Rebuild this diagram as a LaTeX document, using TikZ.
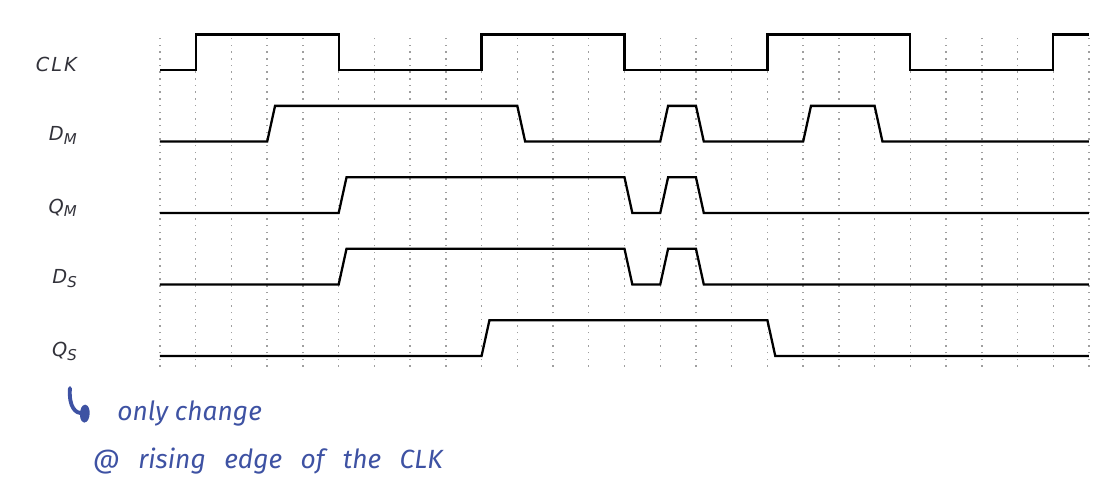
\documentclass[tikz,border=0pt]{standalone}
\usepackage{fontspec}
\usepackage{tikz}
\usetikzlibrary{
    arrows.meta,
    positioning,
    calc,
}
\newfontfamily\labelfont[LetterSpace=10]{DejaVu Sans}
\newfontfamily\handfont{Fira Sans}
\definecolor{inkblue}{RGB}{62,82,163}
\definecolor{labelgray}{RGB}{50,50,58}
\newcommand{\sig}[2]{#1\raisebox{-0.35ex}{\fontsize{8.5}{8.5}\selectfont #2}}

\begin{document}
\begin{tikzpicture}[
    x=0.7146cm, y=0.7146cm,
    gridline/.style={gray!75, line width=0.8pt, dash pattern=on 0.8pt off 3pt},
    wave/.style={black, line width=1.3pt, line join=miter},
    siglabel/.style={anchor=east, inner sep=0pt, text=labelgray, font=\labelfont\itshape\fontsize{11}{13}\selectfont},
    hand/.style={inkblue, line width=2.2pt, line cap=round},
    note/.style={anchor=west, inner sep=0pt, text=inkblue, font=\handfont\itshape\fontsize{15}{18}\selectfont},
]
\useasboundingbox (-4.478,-3.890) rectangle (26.476,9.963);

% dotted time grid
\foreach \i in {0,...,26}
    \draw[gridline] (\i,-0.3) -- (\i,9);

% signal names
\node[siglabel] (clk) at (-2.32,8.17) {CLK};
\node[siglabel] (dm) at (-2.32,6.17) {\sig{D}{M}};
\node[siglabel] (qm) at (-2.32,4.15) {\sig{Q}{M}};
\node[siglabel] (ds) at (-2.32,2.17) {\sig{D}{S}};
\node[siglabel] (qs) at (-2.32,0.12) {\sig{Q}{S}};

% waveforms
\draw[wave] (0,8) -- (1,8) -- (1,9) -- (5,9) -- (5,8) -- (9,8) -- (9,9) -- (13,9) -- (13,8)
    -- (17,8) -- (17,9) -- (21,9) -- (21,8) -- (25,8) -- (25,9) -- (26,9);
\draw[wave] (0,6) -- (3,6) -- (3.22,7) -- (10,7) -- (10.22,6) -- (14,6) -- (14.22,7) -- (15,7)
    -- (15.22,6) -- (18,6) -- (18.22,7) -- (20,7) -- (20.22,6) -- (26,6);
\draw[wave] (0,4) -- (5,4) -- (5.22,5) -- (13,5) -- (13.22,4) -- (14,4) -- (14.22,5) -- (15,5)
    -- (15.22,4) -- (26,4);
\draw[wave] (0,2) -- (5,2) -- (5.22,3) -- (13,3) -- (13.22,2) -- (14,2) -- (14.22,3) -- (15,3)
    -- (15.22,2) -- (26,2);
\draw[wave] (0,0) -- (9,0) -- (9.22,1) -- (17,1) -- (17.22,0) -- (26,0);

% handwritten note
\node[note] (note1) at (-1.20,-1.62) {only change};
\node[note] (note2) at (-1.88,-2.95) {\spaceskip=10.5pt @ rising edge of the CLK};
\coordinate (hook) at (-2.52,-0.90);
\draw[hand, -{Ellipse[length=5.5pt, width=10pt]}] (hook) .. controls (-2.56,-1.45) and (-2.35,-1.60) .. ([xshift=-0.55cm]note1.west);

\end{tikzpicture}
\end{document}
